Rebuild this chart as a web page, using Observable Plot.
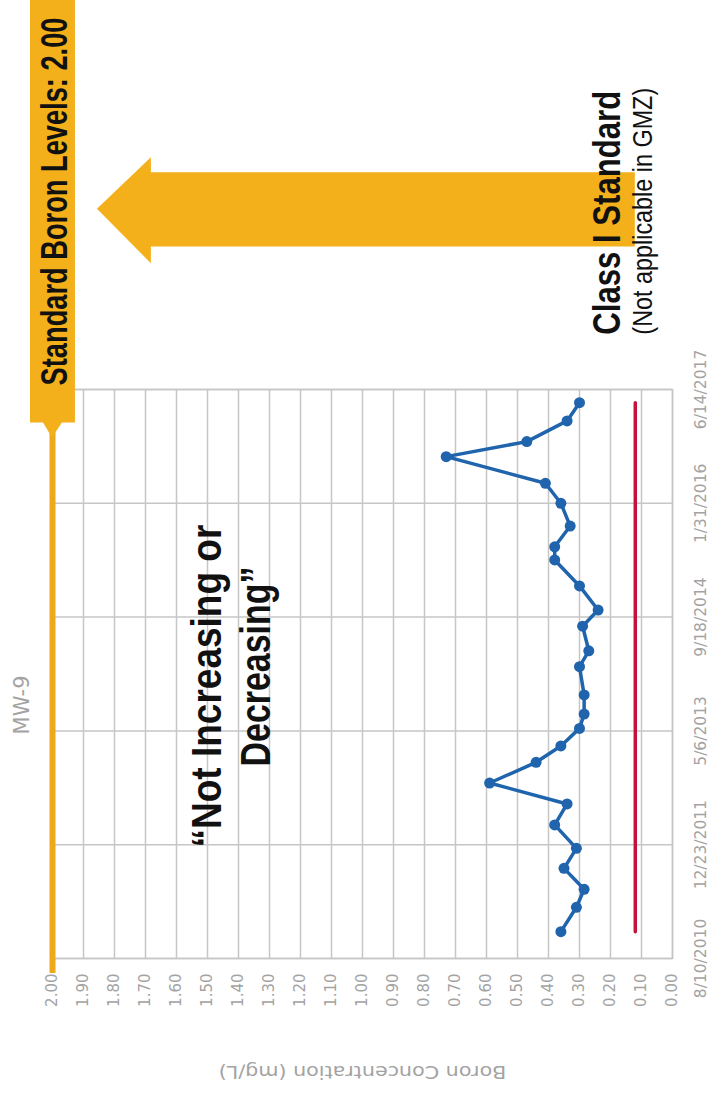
<!DOCTYPE html>
<html>
<head>
<meta charset="utf-8">
<script src="https://cdn.jsdelivr.net/npm/d3@7"></script>
<script src="https://cdn.jsdelivr.net/npm/@observablehq/plot@0.6"></script>
<style>
  html, body { margin: 0; padding: 0; background: #fff; width: 719px; height: 1099px; overflow: hidden; }
  #wrap { position: absolute; left: 0; top: 0; width: 1099px; height: 719px;
          transform-origin: 0 0; transform: translate(0px, 1099px) rotate(-90deg); }
</style>
</head>
<body>
<div id="wrap"></div>
<script>
// ---- data (MW-9 boron, mg/L) ----
const sampleDates = [
  "2010-12-06","2011-03-23","2011-06-10","2011-09-10","2011-12-07","2012-03-19","2012-06-19",
  "2012-09-19","2012-12-19","2013-03-01","2013-05-17","2013-07-19","2013-10-11","2014-02-12",
  "2014-04-23","2014-08-09","2014-10-19","2015-02-02","2015-05-27","2015-07-24","2015-10-23",
  "2016-01-31","2016-04-28","2016-08-23","2016-10-28","2017-01-27","2017-04-17"
];
const boron = [
  0.36, 0.31, 0.285, 0.35, 0.31, 0.38, 0.34,
  0.59, 0.44, 0.36, 0.30, 0.285, 0.285, 0.30,
  0.27, 0.29, 0.24, 0.30, 0.38, 0.38, 0.33,
  0.36, 0.41, 0.73, 0.47, 0.34, 0.30
];
const limitDates = ["2010-12-06", "2017-04-17"];
const limitValues = [0.12, 0.12];

// ---- axes ----
const dateDomain = ["2010-08-10", "2017-06-14"];
const dateTicks = ["2010-08-10", "2011-12-23", "2013-05-06", "2014-09-18", "2016-01-31", "2017-06-14"];
const concTicks = [0, 0.1, 0.2, 0.3, 0.4, 0.5, 0.6, 0.7, 0.8, 0.9, 1.0,
                   1.1, 1.2, 1.3, 1.4, 1.5, 1.6, 1.7, 1.8, 1.9, 2.0];
const titleText = "MW-9";
const yLabelText = "Boron Concentration (mg/L)";

// ---- annotations (anchored in data units) ----
const standardLine = [{y: 2.0, x1: "2010-06-10", x2: "2017-01-22"}];
const bannerShape = [
  {x: "2016-11-17", y1: 2.0,   y2: 2.0},
  {x: "2017-01-22", y1: 1.968, y2: 2.029},
  {x: "2017-01-22", y1: 1.926, y2: 2.071},
  {x: "2022-03-01", y1: 1.926, y2: 2.071}
];
const arrowShape = [
  {y: 1.855, x1: "2019-08-19", x2: "2019-08-19"},
  {y: 1.681, x1: "2018-12-23", x2: "2020-04-02"},
  {y: 1.681, x1: "2019-03-06", x2: "2020-01-27"},
  {y: 0.12,  x1: "2019-03-06", x2: "2020-01-27"}
];
const centeredNotes = [
  {x: "2013-11-19", y: 1.458, text: "\u201CNot Increasing or", size: 43, len: 323},
  {x: "2014-02-13", y: 1.297, text: "Decreasing\u201D", size: 43, len: 200}
];
const startBoldNotes = [
  {x: "2018-02-10", y: 0.168, text: "Class I Standard", size: 38, len: 244},
  {x: "2017-07-02", y: 1.952, text: "Standard Boron Levels: 2.00", size: 37, len: 368}
];
const startPlainNotes = [
  {x: "2018-02-10", y: 0.065, text: "(Not applicable in GMZ)", size: 28, len: 247}
];
const titleNote = [{x: "2013-08-28", y: 2.077, text: titleText}];

// ---- build ----
const P = (s) => new Date(s);
const series = sampleDates.map((d, i) => ({date: P(d), value: boron[i]}));
const limit = limitDates.map((d, i) => ({date: P(d), value: limitValues[i]}));
const conv = (arr, keys) => arr.map(o => { const r = {...o}; keys.forEach(k => r[k] = P(o[k])); return r; });

const orange = "#F4B01A";
const gray = "#A3A3A3";
const gridColor = "#C6C6C6";
const blue = "#1F64AC";
const red = "#C4143C";

const chart = Plot.plot({
  width: 1099,
  height: 719,
  marginLeft: 140,
  marginRight: 390,
  marginTop: 52,
  marginBottom: 47,
  style: {fontFamily: "DejaVu Sans", background: "#fff"},
  x: {type: "utc", domain: dateDomain.map(P)},
  y: {domain: [0, 2]},
  marks: [
    Plot.gridY({ticks: concTicks, stroke: gridColor, strokeOpacity: 1, strokeWidth: 1.5}),
    Plot.gridX({ticks: dateTicks.map(P), stroke: gridColor, strokeOpacity: 1, strokeWidth: 1.5}),
    Plot.frame({stroke: gridColor, strokeWidth: 1.5}),
    Plot.axisY({ticks: concTicks, tickFormat: d3.format(".2f"), tickSize: 0, tickPadding: 15,
                label: null, color: gray, fontSize: 15, fontFamily: "DejaVu Sans"}),
    Plot.axisX({ticks: dateTicks.map(P), tickFormat: d3.utcFormat("%-m/%-d/%Y"), tickSize: 0, tickPadding: 22,
                label: null, color: gray, fontSize: 15.5, fontFamily: "DejaVu Sans"}),
    Plot.text([yLabelText], {frameAnchor: "left", dx: -113, rotate: -90, text: d => d,
                fill: gray, fontSize: 17, textAnchor: "middle", lineAnchor: "middle"}),
    Plot.text(conv(titleNote, ["x"]), {x: "x", y: "y", text: "text", fill: gray, fontSize: 21,
                textAnchor: "middle", lineAnchor: "bottom"}),
    Plot.ruleY(conv(standardLine, ["x1", "x2"]), {y: "y", x1: "x1", x2: "x2", stroke: "#EEA81C", strokeWidth: 6}),
    Plot.areaY(conv(bannerShape, ["x"]), {x: "x", y1: "y1", y2: "y2", fill: orange, curve: "linear"}),
    Plot.line(limit, {x: "date", y: "value", stroke: red, strokeWidth: 3.5}),
    Plot.line(series, {x: "date", y: "value", stroke: blue, strokeWidth: 3.5}),
    Plot.dot(series, {x: "date", y: "value", fill: blue, r: 5.5}),
    Plot.areaX(conv(arrowShape, ["x1", "x2"]), {y: "y", x1: "x1", x2: "x2", fill: orange, curve: "linear"}),
    Plot.text(conv(centeredNotes, ["x"]), {x: "x", y: "y", text: "text", fontSize: "size", fontWeight: "bold",
                fontFamily: "Liberation Sans", fill: "#111", textAnchor: "middle", lineAnchor: "bottom"}),
    Plot.text(conv(startBoldNotes, ["x"]), {x: "x", y: "y", text: "text", fontSize: "size", fontWeight: "bold",
                fontFamily: "Liberation Sans", fill: "#111", textAnchor: "start", lineAnchor: "bottom"}),
    Plot.text(conv(startPlainNotes, ["x"]), {x: "x", y: "y", text: "text", fontSize: "size",
                fontFamily: "Liberation Sans", fill: "#111", textAnchor: "start", lineAnchor: "bottom"})
  ]
});

document.getElementById("wrap").appendChild(chart);

// condensed lettering: squeeze each annotation along its own baseline to its measured length
const lengths = new Map([...centeredNotes, ...startBoldNotes, ...startPlainNotes].map(n => [n.text, n.len]));
lengths.set(yLabelText, 288);
d3.select(chart).selectAll("text").each(function () {
  const L = lengths.get(this.textContent);
  if (!L) return;
  const natural = this.getComputedTextLength();
  if (!natural) return;
  const t = this.getAttribute("transform") || "";
  this.setAttribute("transform", `${t} scale(${(L / natural).toFixed(4)},1)`);
});
</script>
</body>
</html>
